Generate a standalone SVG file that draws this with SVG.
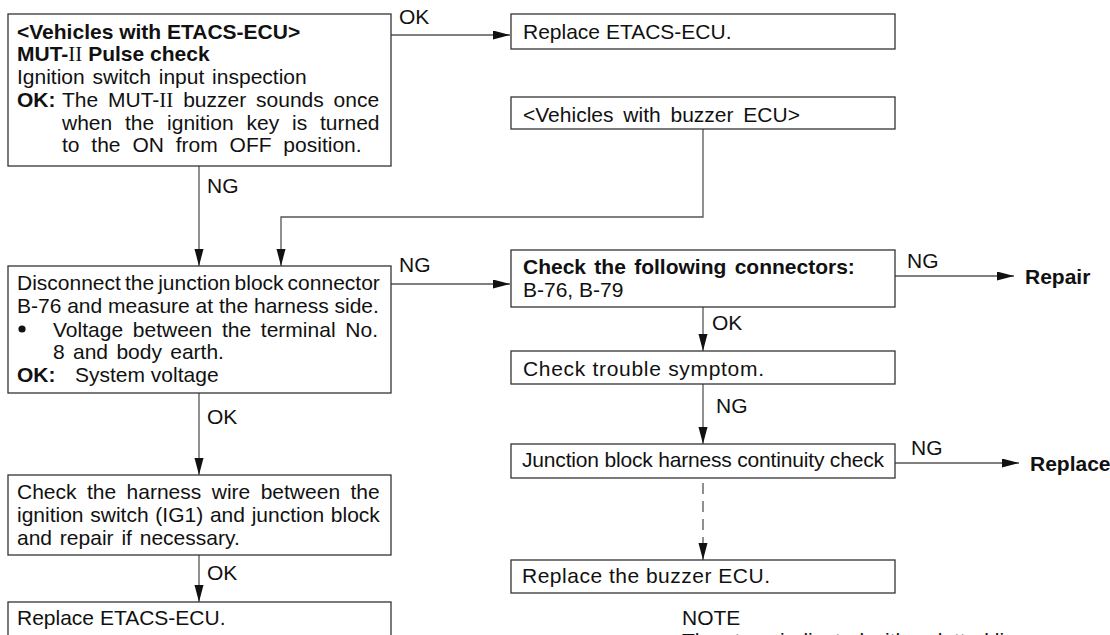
<svg xmlns="http://www.w3.org/2000/svg" width="1110" height="635" viewBox="0 0 1110 635">
<style>
.box{fill:#fff;stroke:#333;stroke-width:1.3}
.t{font-family:"Liberation Sans",Arial,sans-serif;font-size:21px;fill:#111}
.b{font-weight:bold}
.r{font-family:"Liberation Serif","Times New Roman",serif;font-weight:normal}
.c{stroke:#555;stroke-width:1.3;fill:none}
.d{stroke-dasharray:11 7}
</style>
<defs>
<marker id="ah" markerUnits="userSpaceOnUse" markerWidth="18" markerHeight="10" refX="17" refY="4.5" orient="auto"><path d="M0,0 L17,4.5 L0,9 z" fill="#111"/></marker>
</defs>
<rect width="1110" height="635" fill="#fff"/>
<g id="connectors">
<path class="c" d="M391,35 H510" marker-end="url(#ah)"/>
<path class="c" d="M199,166 V266" marker-end="url(#ah)"/>
<path class="c" d="M703,129 V217 H281 V266" marker-end="url(#ah)"/>
<path class="c" d="M391,284 H510" marker-end="url(#ah)"/>
<path class="c" d="M895,276 H1014" marker-end="url(#ah)"/>
<path class="c" d="M703,307 V351" marker-end="url(#ah)"/>
<path class="c" d="M703,384 V444" marker-end="url(#ah)"/>
<path class="c" d="M895,463 H1019" marker-end="url(#ah)"/>
<path class="c d" d="M703,483 V560" marker-end="url(#ah)"/>
<path class="c" d="M199,393 V475" marker-end="url(#ah)"/>
<path class="c" d="M199,555 V602" marker-end="url(#ah)"/>
<text class="t" x="399" y="24">OK</text>
<text class="t" x="207" y="193">NG</text>
<text class="t" x="399" y="272">NG</text>
<text class="t" x="907" y="268">NG</text>
<text class="t b" x="1025" y="284">Repair</text>
<text class="t" x="712" y="330">OK</text>
<text class="t" x="716" y="413">NG</text>
<text class="t" x="911" y="455">NG</text>
<text class="t b" x="1030" y="471">Replace</text>
<text class="t" x="207" y="424">OK</text>
<text class="t" x="207" y="580">OK</text>
</g>
<g id="n1">
<rect class="box" x="8" y="14" width="383" height="152"/>
<text class="t b" x="17" y="39">&lt;Vehicles with ETACS-ECU&gt;</text>
<text class="t b" x="17" y="61">MUT-<tspan class="r">II</tspan> Pulse check</text>
<text class="t" x="17" y="84" word-spacing="2">Ignition switch input inspection</text>
<text class="t b" x="17" y="107">OK:</text>
<text class="t" x="62" y="107" word-spacing="4">The MUT-<tspan class="r">II</tspan> buzzer sounds once</text>
<text class="t" x="62" y="130" word-spacing="7">when the ignition key is turned</text>
<text class="t" x="62" y="152" word-spacing="6">to the ON from OFF position.</text>
</g>
<g id="n2">
<rect class="box" x="511" y="14" width="384" height="35"/>
<text class="t" x="523" y="39">Replace ETACS-ECU.</text>
</g>
<g id="n3">
<rect class="box" x="511" y="97" width="384" height="32"/>
<text class="t" x="523" y="122" word-spacing="4">&lt;Vehicles with buzzer ECU&gt;</text>
</g>
<g id="n4">
<rect class="box" x="8" y="266" width="383" height="127"/>
<text class="t" x="17" y="290" word-spacing="-1.8">Disconnect the junction block connector</text>
<text class="t" x="17" y="313">B-76 and measure at the harness side.</text>
<circle cx="22" cy="329" r="3.6" fill="#111"/>
<text class="t" x="53" y="337" word-spacing="3.9">Voltage between the terminal No.</text>
<text class="t" x="53" y="359" word-spacing="2.5">8 and body earth.</text>
<text class="t b" x="17" y="382">OK:</text>
<text class="t" x="75" y="382">System voltage</text>
</g>
<g id="n5">
<rect class="box" x="511" y="250" width="384" height="57"/>
<text class="t b" x="523" y="274" word-spacing="2.5">Check the following connectors:</text>
<text class="t" x="523" y="297">B-76, B-79</text>
</g>
<g id="n6">
<rect class="box" x="511" y="351" width="384" height="33"/>
<text class="t" x="523" y="376" textLength="241" lengthAdjust="spacing">Check trouble symptom.</text>
</g>
<g id="n7">
<rect class="box" x="511" y="444" width="384" height="34"/>
<text class="t" x="522" y="467" textLength="362" lengthAdjust="spacing">Junction block harness continuity check</text>
</g>
<g id="n8">
<rect class="box" x="511" y="560" width="384" height="33"/>
<text class="t" x="522" y="583" textLength="248" lengthAdjust="spacing">Replace the buzzer ECU.</text>
</g>
<g id="n9">
<rect class="box" x="8" y="475" width="383" height="80"/>
<text class="t" x="17" y="499" word-spacing="4.6">Check the harness wire between the</text>
<text class="t" x="17" y="522" word-spacing="0.9">ignition switch (IG1) and junction block</text>
<text class="t" x="17" y="545" word-spacing="2">and repair if necessary.</text>
</g>
<g id="n10">
<rect class="box" x="8" y="602" width="383" height="60"/>
<text class="t" x="17" y="625">Replace ETACS-ECU.</text>
</g>
<g id="note">
<text class="t" x="682" y="625">NOTE</text>
<text class="t" x="682" y="648">The steps indicated with a dotted line</text>
</g>
</svg>
